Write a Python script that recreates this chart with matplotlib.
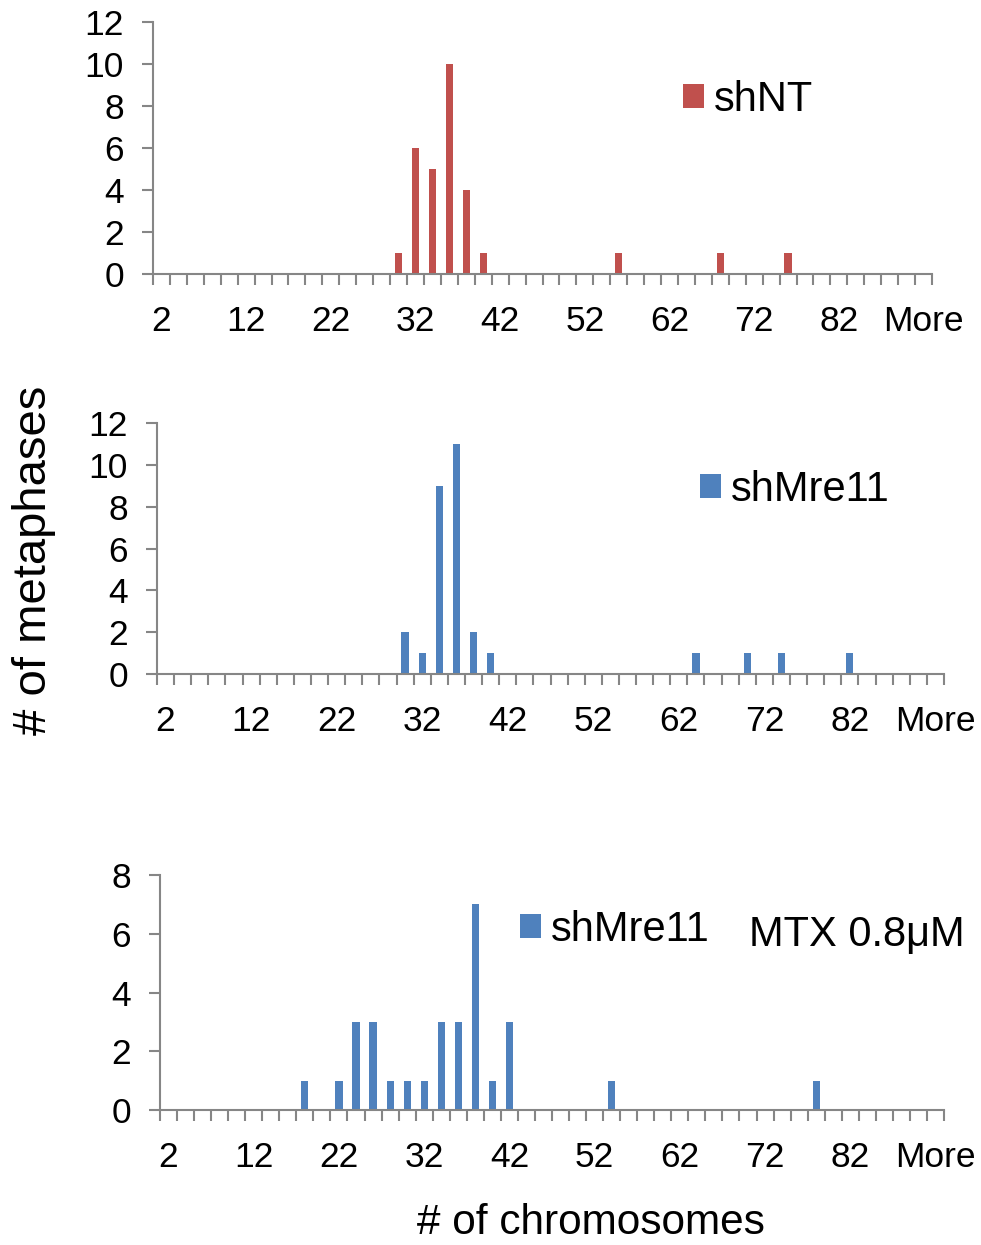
import matplotlib.pyplot as plt

plt.rcParams['font.family'] = ['Liberation Sans', 'DejaVu Sans']

# histogram bins (Excel style), last bin is "More"
bins = [str(b) for b in range(2, 92, 2)] + ['More']

shnt_bins = ['30', '32', '34', '36', '38', '40', '56', '68', '76']
shnt_counts = [1, 6, 5, 10, 4, 1, 1, 1, 1]

mre11_bins = ['30', '32', '34', '36', '38', '40', '64', '70', '74', '82']
mre11_counts = [2, 1, 9, 11, 2, 1, 1, 1, 1, 1]

mtx_bins = ['18', '22', '24', '26', '28', '30', '32', '34', '36', '38', '40', '42', '54', '78']
mtx_counts = [1, 1, 3, 3, 1, 1, 1, 3, 3, 7, 1, 3, 1, 1]

RED = '#C0504D'
BLUE = '#4F81BD'
GRAY = '#868686'
W, H = 981, 1245


def px_axes(fig, left, top, right, bottom):
    return fig.add_axes([left / W, 1 - bottom / H, (right - left) / W, (bottom - top) / H])


def panel(ax, xs, ys, color, label, ymax, leg_xy):
    pos = [bins.index(x) for x in xs]
    ax.bar(pos, ys, width=0.42, color=color, label=label)
    ax.set_xlim(-0.5, len(bins) - 0.5)
    ax.set_ylim(0, ymax)
    ax.set_yticks(range(0, ymax + 1, 2))
    ax.set_xticks(range(0, len(bins), 5))
    ax.set_xticklabels(bins[::5])
    ax.set_xticks([i - 0.5 for i in range(len(bins) + 1)], minor=True)
    ax.tick_params(axis='x', which='major', length=0, pad=22, labelsize=25.5)
    ax.tick_params(axis='x', which='minor', length=8, width=1.5, color=GRAY, direction='out')
    ax.tick_params(axis='y', length=8, width=1.5, color=GRAY, pad=13, labelsize=25.5)
    for s in ['top', 'right']:
        ax.spines[s].set_visible(False)
    for s in ['left', 'bottom']:
        ax.spines[s].set_color(GRAY)
        ax.spines[s].set_linewidth(1.5)
    ax.legend(loc='center left', bbox_to_anchor=(leg_xy[0] / W, 1 - leg_xy[1] / H),
              bbox_transform=ax.figure.transFigure, frameon=False, fontsize=30,
              handlelength=0.5, handleheight=0.5, handletextpad=0.25, borderpad=0, borderaxespad=0)


fig = plt.figure(figsize=(W / 100, H / 100), dpi=100)

ax1 = px_axes(fig, 153, 22, 932, 274)
panel(ax1, shnt_bins, shnt_counts, RED, 'shNT', 12, (683, 100))

ax2 = px_axes(fig, 157, 423, 944, 674)
panel(ax2, mre11_bins, mre11_counts, BLUE, 'shMre11', 12, (700, 490))

ax3 = px_axes(fig, 160, 875, 944, 1110)
panel(ax3, mtx_bins, mtx_counts, BLUE, 'shMre11', 8, (520, 930))

fig.text(857 / W, 1 - 935 / H, 'MTX 0.8\u03bcM', fontsize=30, ha='center', va='center')
fig.text(34 / W, 1 - 560 / H, '# of metaphases', fontsize=34, rotation=90, ha='center', va='center')
fig.text(591 / W, 1 - 1234 / H, '# of chromosomes', fontsize=30.5, ha='center', va='baseline')

fig.savefig('out.png', dpi=100)
